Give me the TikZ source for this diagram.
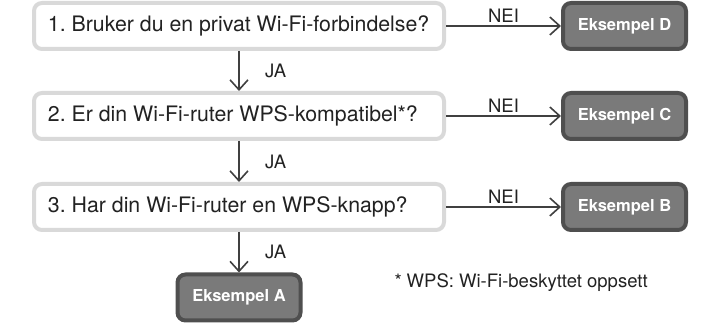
\documentclass[tikz,border=0pt]{standalone}
\usepackage{fontspec}
\setmainfont{TeX Gyre Heros}
\usetikzlibrary{arrows.meta}
\definecolor{rimgray}{HTML}{D9D9D9}
\definecolor{exrim}{HTML}{4F4F4F}
\definecolor{exfill}{HTML}{7A7A7A}
\definecolor{linegray}{HTML}{404040}
\definecolor{inkgray}{HTML}{222222}
\frenchspacing
\begin{document}
\begin{tikzpicture}[x=1pt, y=-1pt,
    question/.style={draw=rimgray, fill=white, line width=4pt, rounded corners=8pt,
        inner xsep=14pt, minimum height=46pt,
        text=inkgray, font=\fontsize{21.3}{24}\selectfont},
    example/.style={draw=exrim, fill=exfill, line width=4pt, rounded corners=8pt,
        minimum width=123pt, minimum height=46pt, inner sep=0pt,
        text=white, font=\bfseries\fontsize{16.5}{19}\selectfont},
    flow/.style={draw=linegray, line width=1.6pt, -{Straight Barb[length=10pt, width=18pt]}},
    answer/.style={text=inkgray, font=\fontsize{18.5}{22}\selectfont}]
    \useasboundingbox (0, 0) rectangle (716, 326);

    \foreach \i/\y/\l/\t in {1/26/D/{1. Bruker du en privat Wi-Fi-forbindelse?},
                             2/116/C/{2. Er din Wi-Fi-ruter WPS-kompatibel*?},
                             3/207/B/{3. Har din Wi-Fi-ruter en WPS-knapp?}} {
        \node[question] (q\i) at (239, \y) {\makebox[382pt][l]{\t}};
        \node[example] (ex\l) at (624.5, \y) {Eksempel \l};
        \draw[flow] (q\i) -- node[answer, above=-1pt] {NEI} (ex\l);   % nei -- eksempel
    }
    \node[example] (exA) at (239, 297.5) {Eksempel A};

    \draw[flow] (q1) -- node[answer, right=22pt] {JA} (q2); % 1 -- 2
    \draw[flow] (q2) -- node[answer, right=22pt] {JA} (q3); % 2 -- 3
    \draw[flow] (q3) -- node[answer, right=22pt] {JA} (exA); % 3 -- A

    \node[answer, anchor=west] (note) at (391, 283)
        {*\hspace{5pt}WPS: Wi-Fi-beskyttet oppsett};
\end{tikzpicture}
\end{document}
